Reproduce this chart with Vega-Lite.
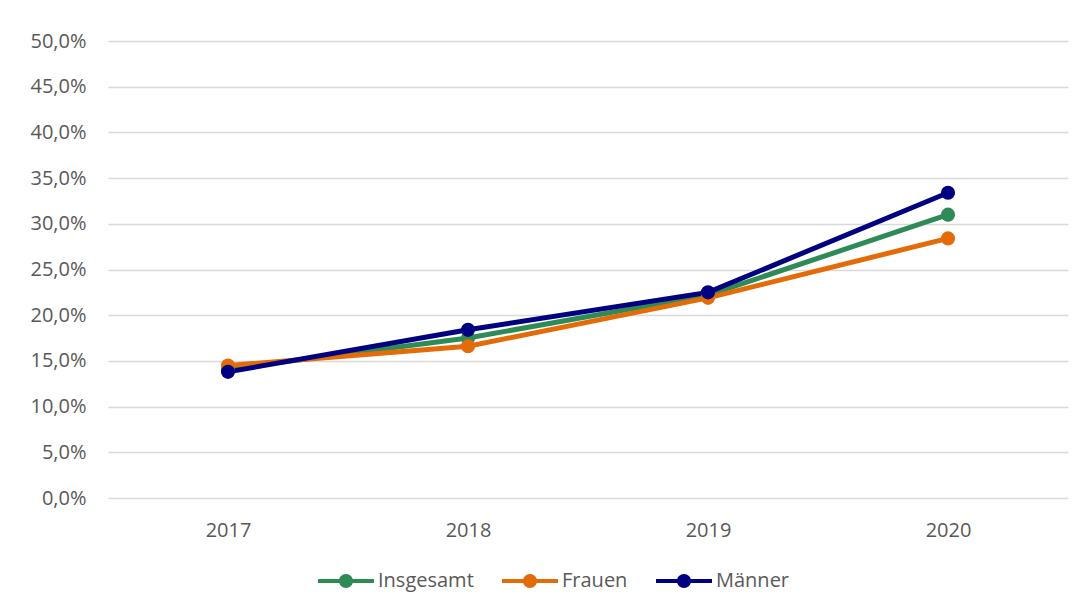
{
  "$schema": "https://vega.github.io/schema/vega-lite/v6.json",
  "width": 960,
  "height": 457,
  "autosize": {"type": "none"},
  "padding": {"left": 108, "top": 41, "right": 18, "bottom": 117},
  "background": "white",
  "config": {
    "view": {"stroke": null},
    "font": "Open Sans",
    "axis": {"labelFont": "Open Sans", "labelColor": "#595959", "labelFontSize": 20, "domain": false, "ticks": false, "title": null},
    "legend": {"labelFont": "Open Sans", "labelColor": "#595959", "labelFontSize": 20}
  },
  "data": {
    "values": [
      {"year": "2017", "series": "Insgesamt", "value": 0.141},
      {"year": "2018", "series": "Insgesamt", "value": 0.175},
      {"year": "2019", "series": "Insgesamt", "value": 0.222},
      {"year": "2020", "series": "Insgesamt", "value": 0.310},
      {"year": "2017", "series": "Frauen", "value": 0.145},
      {"year": "2018", "series": "Frauen", "value": 0.166},
      {"year": "2019", "series": "Frauen", "value": 0.219},
      {"year": "2020", "series": "Frauen", "value": 0.284},
      {"year": "2017", "series": "Männer", "value": 0.138},
      {"year": "2018", "series": "Männer", "value": 0.184},
      {"year": "2019", "series": "Männer", "value": 0.225},
      {"year": "2020", "series": "Männer", "value": 0.334}
    ]
  },
  "encoding": {
    "x": {
      "field": "year", "type": "ordinal",
      "scale": {"type": "point", "padding": 0.5},
      "axis": {"labelAngle": 0, "labelPadding": 22, "grid": false}
    },
    "y": {
      "field": "value", "type": "quantitative",
      "scale": {"domain": [0, 0.5], "nice": false},
      "axis": {
        "values": [0, 0.05, 0.1, 0.15, 0.2, 0.25, 0.3, 0.35, 0.4, 0.45, 0.5],
        "labelExpr": "replace(format(datum.value, '.1%'), '.', ',')",
        "labelPadding": 22,
        "grid": true, "gridColor": "#d9d9d9", "gridWidth": 1.5
      }
    },
    "color": {
      "field": "series", "type": "nominal",
      "scale": {"domain": ["Insgesamt", "Frauen", "Männer"], "range": ["#2E8B57", "#E36C09", "#000080"]},
      "legend": {
        "title": null,
        "orient": "none",
        "direction": "horizontal",
        "legendX": 228,
        "legendY": 530,
        "symbolType": "M-4,-0.3 L-0.95,-0.3 L-0.95,0.3 L-4,0.3 Z M0.95,-0.3 L4,-0.3 L4,0.3 L0.95,0.3 Z M-1,0 A1,1 0 1,1 1,0 A1,1 0 1,1 -1,0 Z",
        "symbolSize": 196,
        "symbolStrokeWidth": 0,
        "symbolOpacity": 1,
        "symbolOffset": 0,
        "labelOffset": 22,
        "columnPadding": 28
      }
    }
  },
  "layer": [
    {"mark": {"type": "line", "strokeWidth": 5}},
    {"mark": {"type": "point", "filled": true, "size": 200, "opacity": 1}}
  ]
}
